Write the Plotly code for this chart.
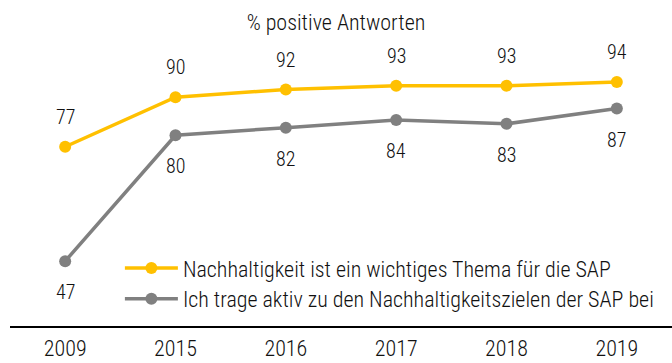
import plotly.graph_objects as go

years = ["2009", "2015", "2016", "2017", "2018", "2019"]
thema = [77, 90, 92, 93, 93, 94]
beitrag = [47, 80, 82, 84, 83, 87]

name_thema = "Nachhaltigkeit ist ein wichtiges Thema für die SAP"
name_beitrag = "Ich trage aktiv zu den Nachhaltigkeitszielen der SAP bei"

YELLOW = "#FFC000"
GREY = "#808080"
FONT = "Roboto Condensed, Liberation Sans Narrow, sans-serif"
TEXT = "#111111"
WEIGHT = 300

fig = go.Figure()
fig.add_trace(go.Scatter(
    x=years, y=thema, mode="lines+markers", name=name_thema,
    line=dict(color=YELLOW, width=3.5), marker=dict(size=12, color=YELLOW),
    legend="legend", showlegend=True,
))
fig.add_trace(go.Scatter(
    x=years, y=beitrag, mode="lines+markers", name=name_beitrag,
    line=dict(color=GREY, width=3.5), marker=dict(size=12, color=GREY),
    legend="legend2", showlegend=True,
))

label_font = dict(family=FONT, size=20, color=TEXT, weight=WEIGHT)
# value labels: upper series above the points, lower series below
for i, v in enumerate(thema):
    fig.add_annotation(x=i, y=v, text=str(v), showarrow=False, yshift=30,
                       font=label_font)
for i, v in enumerate(beitrag):
    fig.add_annotation(x=i, y=v, text=str(v), showarrow=False, yshift=-31,
                       font=label_font)

legend_font = dict(family=FONT, size=22, color=TEXT, weight=WEIGHT)
fig.update_layout(
    width=672, height=363,
    margin=dict(l=10, r=0, t=59, b=37),
    paper_bgcolor="white", plot_bgcolor="white",
    showlegend=True,
    font=dict(family=FONT, color=TEXT),
    title=dict(text="% positive Antworten", x=0.5, xanchor="center",
               y=1 - 22 / 363, yref="container", yanchor="middle",
               font=dict(family=FONT, size=22, color=TEXT, weight=WEIGHT)),
    xaxis=dict(type="category", range=[-0.5, 5.5], showgrid=False,
               showline=True, linecolor="black", linewidth=2,
               ticks="outside", ticklen=2, tickcolor="rgba(0,0,0,0)",
               tickfont=dict(family=FONT, size=22, color=TEXT, weight=WEIGHT),
               zeroline=False, automargin=False),
    yaxis=dict(range=[30, 100], visible=False, showgrid=False,
               automargin=False),
    legend=dict(x=0.166, y=0.295, xanchor="left", yanchor="top",
                itemwidth=53, font=legend_font, bgcolor="rgba(0,0,0,0)"),
    legend2=dict(x=0.166, y=0.18, xanchor="left", yanchor="top",
                 itemwidth=53, font=legend_font, bgcolor="rgba(0,0,0,0)"),
)

fig.write_html("out.html")
